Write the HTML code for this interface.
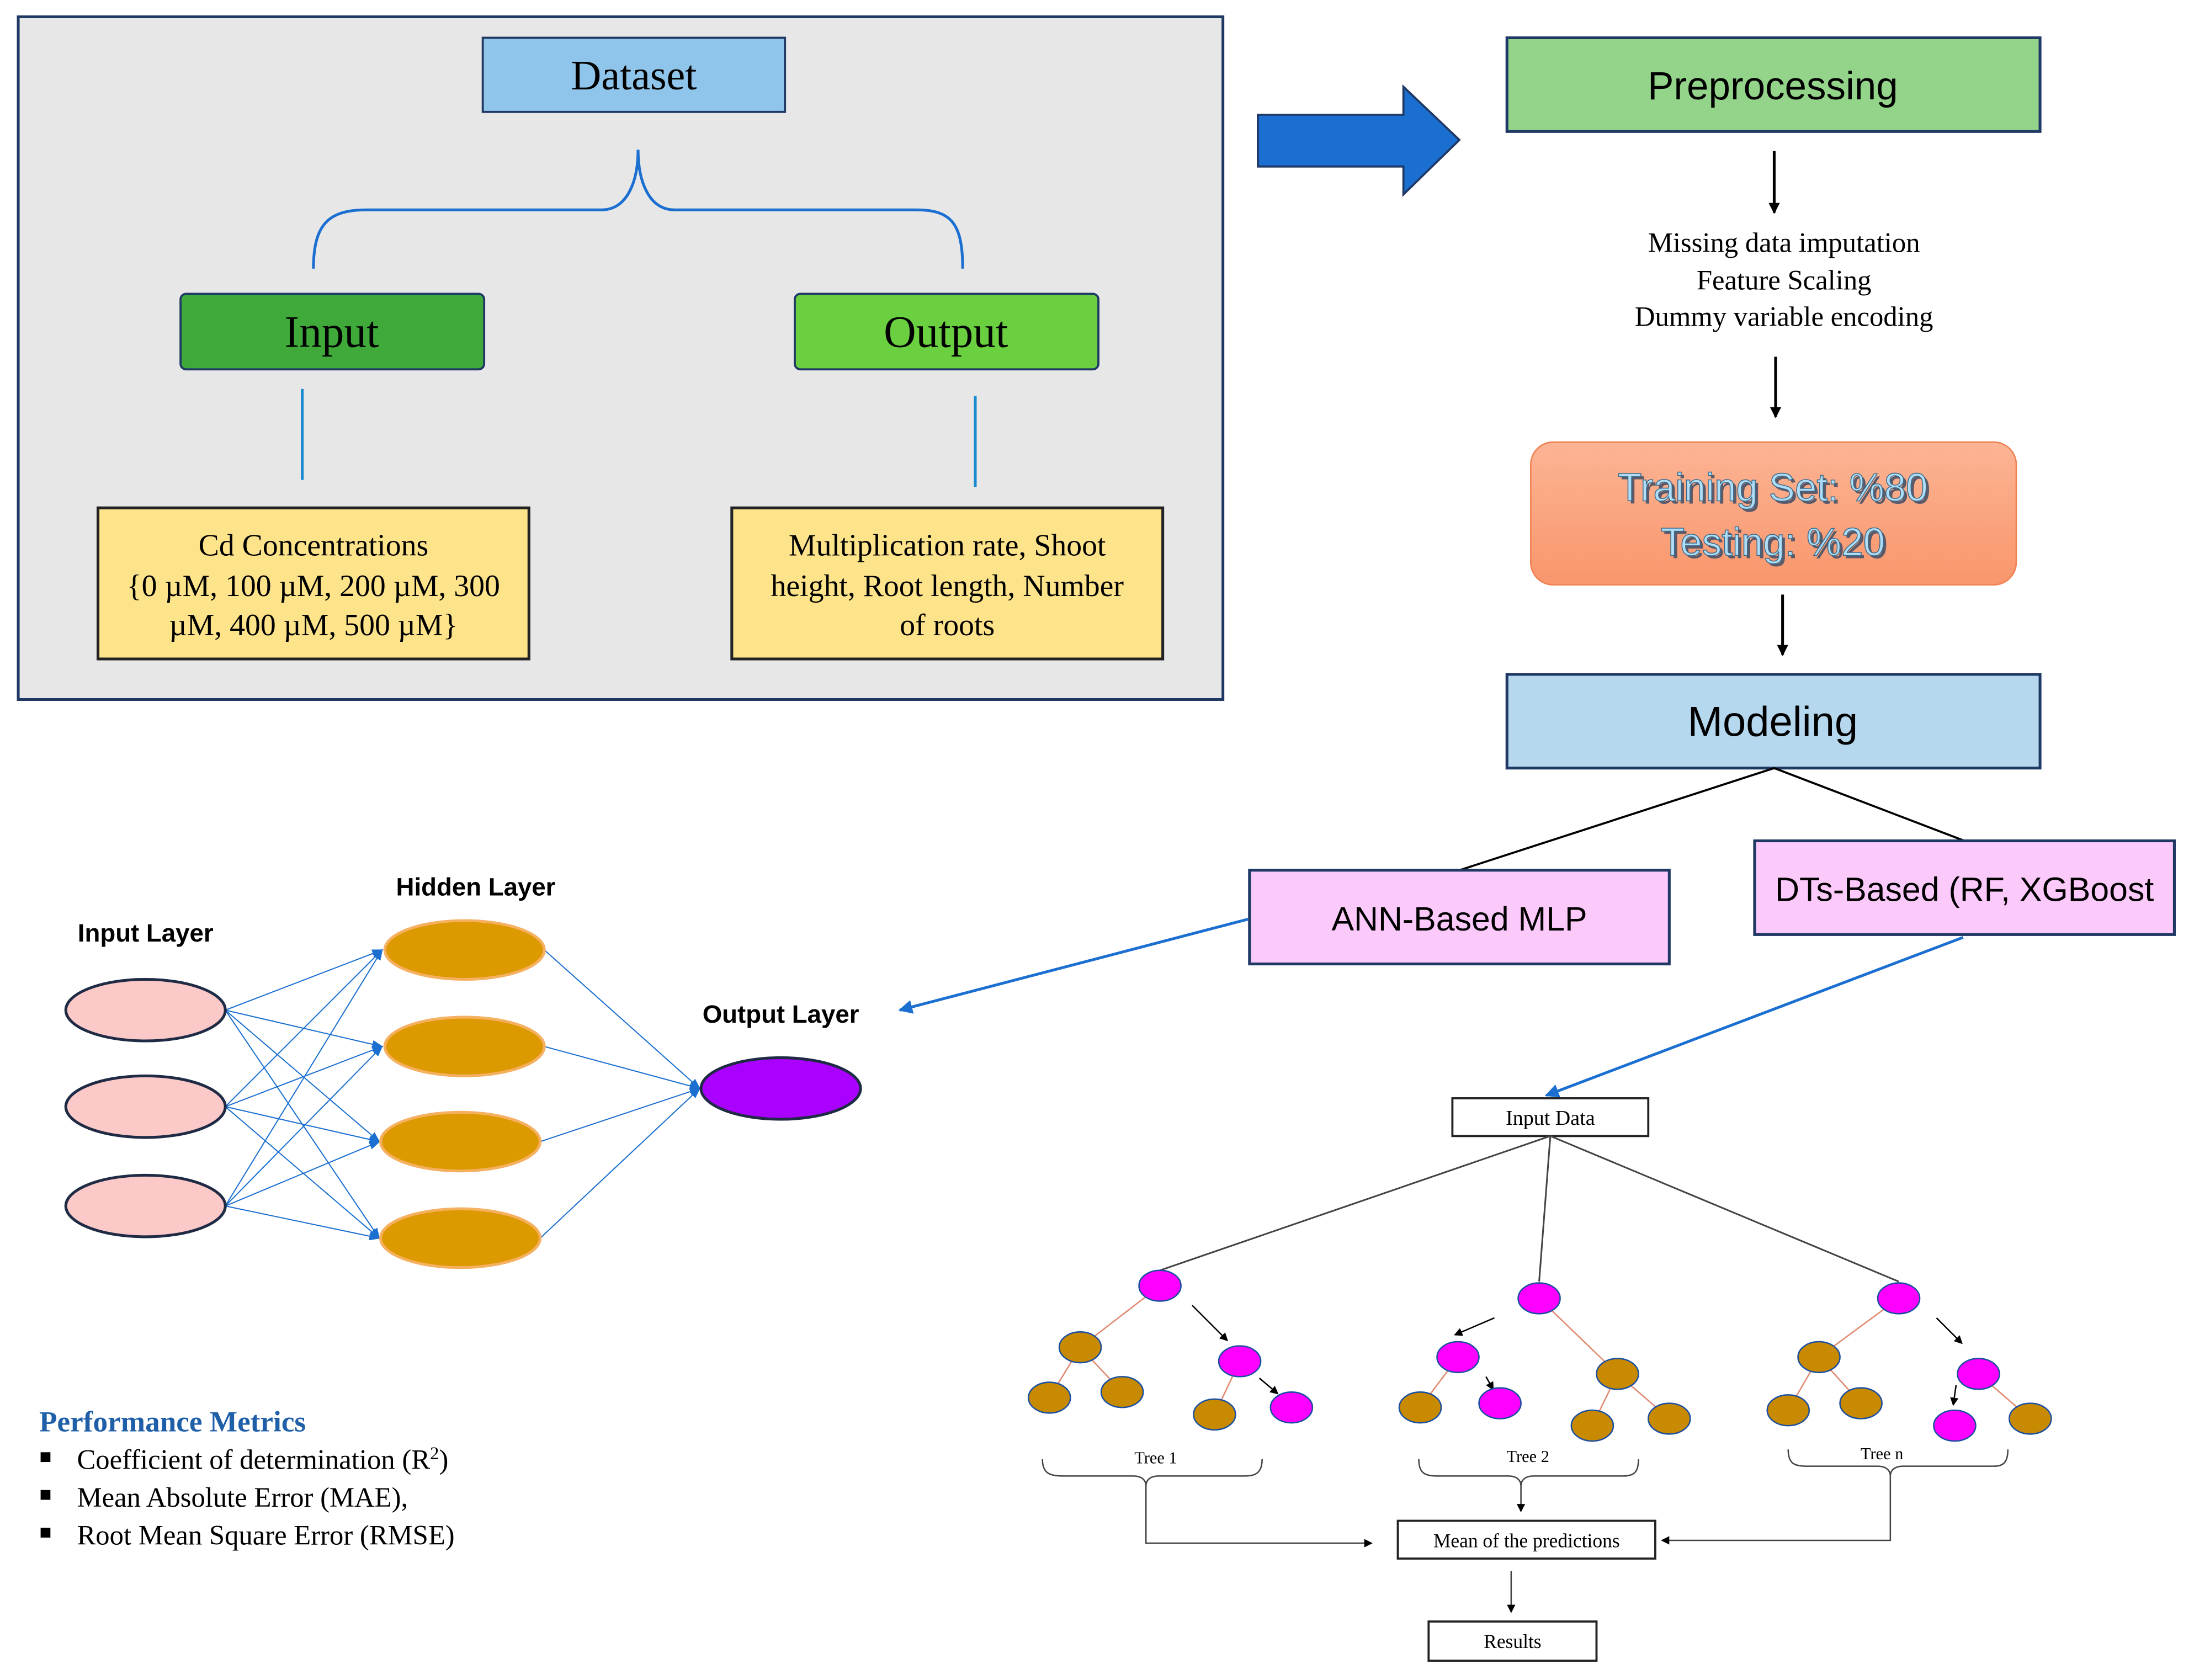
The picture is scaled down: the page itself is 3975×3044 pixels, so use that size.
<!DOCTYPE html>
<html><head><meta charset="utf-8"><style>
html,body{margin:0;padding:0;background:#fff}
svg{display:block}
.s{font-family:"Liberation Serif",serif}
.a{font-family:"Liberation Sans",sans-serif}
</style></head><body>
<svg width="3975" height="3044" viewBox="0 0 1568 1200.8" xmlns="http://www.w3.org/2000/svg">
<defs>
<marker id="ab" markerWidth="8" markerHeight="8" refX="7" refY="4" orient="auto" markerUnits="userSpaceOnUse"><path d="M0,0 L8,4 L0,8 z" fill="#000"/></marker>
<marker id="abl" markerWidth="10" markerHeight="10" refX="9" refY="5" orient="auto" markerUnits="userSpaceOnUse"><path d="M0,0 L10,5 L0,10 z" fill="#1a6fd0"/></marker>
<marker id="sm" markerWidth="8" markerHeight="8" refX="7" refY="4" orient="auto" markerUnits="userSpaceOnUse"><path d="M0,1 L8,4 L0,7 z" fill="#1a6fd0"/></marker>
<marker id="tk" markerWidth="6" markerHeight="6" refX="5" refY="3" orient="auto" markerUnits="userSpaceOnUse"><path d="M0,0 L6,3 L0,6 z" fill="#000"/></marker>
<linearGradient id="og" x1="0" y1="0" x2="0" y2="1"><stop offset="0" stop-color="#fcb494"/><stop offset="1" stop-color="#f9966c"/></linearGradient>
</defs>
<rect x="13" y="12" width="861" height="488" fill="#e7e7e7" stroke="#1f3864" stroke-width="2"/>
<rect x="345" y="27" width="216" height="53" fill="#8fc5ea" stroke="#1f3864" stroke-width="1.5"/>
<text x="453" y="64" class="s" font-size="30" text-anchor="middle">Dataset</text>
<path d="M224,192 C224,160 235,150 262,150 L430,150 C448,150 456,130 456,107 C456,130 464,150 482,150 L655,150 C680,150 688,160 688,192" fill="none" stroke="#1a6fd0" stroke-width="2"/>
<rect x="129" y="210" width="217" height="54" rx="4" fill="#3faa3a" stroke="#1f3864" stroke-width="1.5"/>
<text x="237" y="248" class="s" font-size="32" text-anchor="middle">Input</text>
<rect x="568" y="210" width="217" height="54" rx="4" fill="#6ad03f" stroke="#1f3864" stroke-width="1.5"/>
<text x="676" y="248" class="s" font-size="32" text-anchor="middle">Output</text>
<line x1="216" y1="278" x2="216" y2="343" stroke="#1a8ad0" stroke-width="2"/>
<line x1="697" y1="283" x2="697" y2="348" stroke="#1a8ad0" stroke-width="2"/>
<rect x="70" y="363" width="308" height="108" fill="#fde38a" stroke="#222" stroke-width="2"/>
<text class="s" font-size="22" text-anchor="middle"><tspan x="224" y="397">Cd Concentrations</tspan><tspan x="224" y="426">{0 µM, 100 µM, 200 µM, 300</tspan><tspan x="224" y="454">µM, 400 µM, 500 µM}</tspan></text>
<rect x="523" y="363" width="308" height="108" fill="#fde38a" stroke="#222" stroke-width="2"/>
<text class="s" font-size="22" text-anchor="middle"><tspan x="677" y="397">Multiplication rate, Shoot</tspan><tspan x="677" y="426">height, Root length, Number</tspan><tspan x="677" y="454">of roots</tspan></text>
<path d="M899,82 L1003,82 L1003,62 L1043,100 L1003,139 L1003,119 L899,119 z" fill="#1a6fd0" stroke="#1f3864" stroke-width="1.5"/>
<rect x="1077" y="27" width="381" height="67" fill="#93d48a" stroke="#1f3864" stroke-width="2"/>
<text x="1267" y="71" class="a" font-size="28" text-anchor="middle">Preprocessing</text>
<line x1="1268" y1="108" x2="1268" y2="152" stroke="#000" stroke-width="2" marker-end="url(#ab)"/>
<text class="s" font-size="20" text-anchor="middle"><tspan x="1275" y="180">Missing data imputation</tspan><tspan x="1275" y="207">Feature Scaling</tspan><tspan x="1275" y="233">Dummy variable encoding</tspan></text>
<line x1="1269" y1="255" x2="1269" y2="298" stroke="#000" stroke-width="2" marker-end="url(#ab)"/>
<rect x="1094" y="316" width="347" height="102" rx="16" fill="url(#og)" stroke="#f08050" stroke-width="1"/>
<text class="a" font-size="28" text-anchor="middle" fill="#5a5a6a"><tspan x="1269" y="360">Training Set: %80</tspan><tspan x="1269" y="399">Testing: %20</tspan></text>
<text class="a" font-size="28" text-anchor="middle" fill="#b0def8" stroke="#3a6a8a" stroke-width="0.6"><tspan x="1267" y="358">Training Set: %80</tspan><tspan x="1267" y="397">Testing: %20</tspan></text>
<line x1="1274" y1="425" x2="1274" y2="468" stroke="#000" stroke-width="2" marker-end="url(#ab)"/>
<rect x="1077" y="482" width="381" height="67" fill="#b5d8ee" stroke="#1f3864" stroke-width="2"/>
<text x="1267" y="526" class="a" font-size="30" text-anchor="middle">Modeling</text>
<line x1="1268" y1="549" x2="1043" y2="622" stroke="#000" stroke-width="1.5"/>
<line x1="1268" y1="549" x2="1404" y2="601" stroke="#000" stroke-width="1.5"/>
<rect x="893" y="622" width="300" height="67" fill="#fcc9fb" stroke="#1f3864" stroke-width="2"/>
<text x="1043" y="665" class="a" font-size="24" text-anchor="middle">ANN-Based MLP</text>
<rect x="1254" y="601" width="300" height="67" fill="#fcc9fb" stroke="#1f3864" stroke-width="2"/>
<text x="1404" y="644" class="a" font-size="24" text-anchor="middle">DTs-Based (RF, XGBoost</text>
<line x1="892" y1="657" x2="643" y2="722" stroke="#1a6fd0" stroke-width="2" marker-end="url(#abl)"/>
<line x1="1403" y1="670" x2="1105" y2="783" stroke="#1a6fd0" stroke-width="2" marker-end="url(#abl)"/>
<text x="340" y="640" class="a" font-size="18" font-weight="bold" text-anchor="middle">Hidden Layer</text>
<text x="104" y="673" class="a" font-size="18" font-weight="bold" text-anchor="middle">Input Layer</text>
<text x="558" y="731" class="a" font-size="18" font-weight="bold" text-anchor="middle">Output Layer</text>
<g stroke="#1a6fd0" stroke-width="0.8" fill="none" marker-end="url(#sm)">
<line x1="161" y1="722" x2="273" y2="679"/><line x1="161" y1="722" x2="273" y2="748"/><line x1="161" y1="722" x2="271" y2="816"/><line x1="161" y1="722" x2="271" y2="885"/>
<line x1="161" y1="791" x2="273" y2="679"/><line x1="161" y1="791" x2="273" y2="748"/><line x1="161" y1="791" x2="271" y2="816"/><line x1="161" y1="791" x2="271" y2="885"/>
<line x1="161" y1="862" x2="273" y2="679"/><line x1="161" y1="862" x2="273" y2="748"/><line x1="161" y1="862" x2="271" y2="816"/><line x1="161" y1="862" x2="271" y2="885"/>
<line x1="389" y1="679" x2="500" y2="778"/><line x1="389" y1="748" x2="500" y2="778"/><line x1="386" y1="816" x2="500" y2="778"/><line x1="386" y1="885" x2="500" y2="778"/>
</g>
<g fill="#fcc9c9" stroke="#1f2a44" stroke-width="2">
<ellipse cx="104" cy="722" rx="57" ry="22"/><ellipse cx="104" cy="791" rx="57" ry="22"/><ellipse cx="104" cy="862" rx="57" ry="22"/>
</g>
<g fill="#dd9900" stroke="#f5b060" stroke-width="2">
<ellipse cx="332" cy="679" rx="57" ry="21"/><ellipse cx="332" cy="748" rx="57" ry="21"/><ellipse cx="329" cy="816" rx="57" ry="21"/><ellipse cx="329" cy="885" rx="57" ry="21"/>
</g>
<ellipse cx="558" cy="778" rx="57" ry="22" fill="#aa00ff" stroke="#1f2a44" stroke-width="2"/>
<text x="28" y="1023" class="s" font-size="21" font-weight="bold" fill="#1f5fa8">Performance Metrics</text>
<g class="s" font-size="20">
<rect x="29" y="1038" width="7" height="7"/><text x="55" y="1050">Coefficient of determination (R<tspan font-size="13" dy="-7">2</tspan><tspan dy="7">)</tspan></text>
<rect x="29" y="1065" width="7" height="7"/><text x="55" y="1077">Mean Absolute Error (MAE),</text>
<rect x="29" y="1092" width="7" height="7"/><text x="55" y="1104">Root Mean Square Error (RMSE)</text>
</g>
<rect x="1038" y="785" width="140" height="27" fill="#fff" stroke="#222" stroke-width="1.5"/>
<text x="1108" y="804" class="s" font-size="15" text-anchor="middle">Input Data</text>
<g stroke="#444" stroke-width="1.2">
<line x1="1108" y1="812" x2="829" y2="908"/><line x1="1108" y1="812" x2="1100" y2="916"/><line x1="1108" y1="812" x2="1357" y2="916"/>
</g>
<g stroke="#e08a70" stroke-width="1">
<line x1="829" y1="919" x2="772" y2="963"/><line x1="772" y1="963" x2="750" y2="999"/><line x1="772" y1="963" x2="802" y2="995"/><line x1="886" y1="973" x2="868" y2="1011"/>
<line x1="1100" y1="928" x2="1156" y2="982"/><line x1="1042" y1="970" x2="1015" y2="1006"/><line x1="1156" y1="982" x2="1138" y2="1019"/><line x1="1156" y1="982" x2="1193" y2="1014"/>
<line x1="1357" y1="928" x2="1300" y2="970"/><line x1="1300" y1="970" x2="1278" y2="1008"/><line x1="1300" y1="970" x2="1330" y2="1003"/><line x1="1414" y1="982" x2="1451" y2="1014"/>
</g>
<g stroke="#000" stroke-width="1" marker-end="url(#tk)">
<line x1="852" y1="933" x2="877" y2="958"/><line x1="900" y1="985" x2="913" y2="996"/>
<line x1="1068" y1="942" x2="1040" y2="954"/><line x1="1062" y1="984" x2="1067" y2="993"/>
<line x1="1384" y1="942" x2="1402" y2="960"/><line x1="1398" y1="990" x2="1396" y2="1004"/>
</g>
<g stroke="#1a4fa0" stroke-width="1">
<ellipse cx="829" cy="919" rx="15" ry="11" fill="#ff00ff"/><ellipse cx="772" cy="963" rx="15" ry="11" fill="#c88a00"/><ellipse cx="886" cy="973" rx="15" ry="11" fill="#ff00ff"/>
<ellipse cx="750" cy="999" rx="15" ry="11" fill="#c88a00"/><ellipse cx="802" cy="995" rx="15" ry="11" fill="#c88a00"/><ellipse cx="868" cy="1011" rx="15" ry="11" fill="#c88a00"/><ellipse cx="923" cy="1006" rx="15" ry="11" fill="#ff00ff"/>
<ellipse cx="1100" cy="928" rx="15" ry="11" fill="#ff00ff"/><ellipse cx="1042" cy="970" rx="15" ry="11" fill="#ff00ff"/><ellipse cx="1156" cy="982" rx="15" ry="11" fill="#c88a00"/>
<ellipse cx="1015" cy="1006" rx="15" ry="11" fill="#c88a00"/><ellipse cx="1072" cy="1003" rx="15" ry="11" fill="#ff00ff"/><ellipse cx="1138" cy="1019" rx="15" ry="11" fill="#c88a00"/><ellipse cx="1193" cy="1014" rx="15" ry="11" fill="#c88a00"/>
<ellipse cx="1357" cy="928" rx="15" ry="11" fill="#ff00ff"/><ellipse cx="1300" cy="970" rx="15" ry="11" fill="#c88a00"/><ellipse cx="1414" cy="982" rx="15" ry="11" fill="#ff00ff"/>
<ellipse cx="1278" cy="1008" rx="15" ry="11" fill="#c88a00"/><ellipse cx="1330" cy="1003" rx="15" ry="11" fill="#c88a00"/><ellipse cx="1397" cy="1019" rx="15" ry="11" fill="#ff00ff"/><ellipse cx="1451" cy="1014" rx="15" ry="11" fill="#c88a00"/>
</g>
<g class="s" font-size="12" text-anchor="middle"><text x="826" y="1046">Tree 1</text><text x="1092" y="1045">Tree 2</text><text x="1345" y="1043">Tree n</text></g>
<g fill="none" stroke="#444" stroke-width="1">
<path d="M745,1043 C745,1053 750,1055 760,1055 L810,1055 C816,1055 819,1058 819,1062 C819,1058 822,1055 828,1055 L890,1055 C898,1055 902,1052 902,1043"/>
<path d="M1014,1043 C1014,1053 1018,1055 1028,1055 L1078,1055 C1084,1055 1087,1058 1087,1062 C1087,1058 1090,1055 1096,1055 L1160,1055 C1168,1055 1171,1052 1171,1043"/>
<path d="M1278,1036 C1278,1046 1282,1048 1292,1048 L1342,1048 C1348,1048 1351,1051 1351,1055 C1351,1051 1354,1048 1360,1048 L1425,1048 C1432,1048 1435,1045 1435,1036"/>
</g>
<g fill="none" stroke="#444" stroke-width="1" marker-end="url(#tk)">
<path d="M819,1062 L819,1103 L980,1103"/>
<path d="M1087,1062 L1087,1080"/>
<path d="M1351,1055 L1351,1101 L1188,1101"/>
<path d="M1080,1123 L1080,1152"/>
</g>
<rect x="999" y="1087" width="184" height="27" fill="#fff" stroke="#222" stroke-width="1.5"/>
<text x="1091" y="1106" class="s" font-size="14" text-anchor="middle">Mean of the predictions</text>
<rect x="1021" y="1159" width="120" height="28" fill="#fff" stroke="#222" stroke-width="1.5"/>
<text x="1081" y="1178" class="s" font-size="14" text-anchor="middle">Results</text>
</svg>
</body></html>
